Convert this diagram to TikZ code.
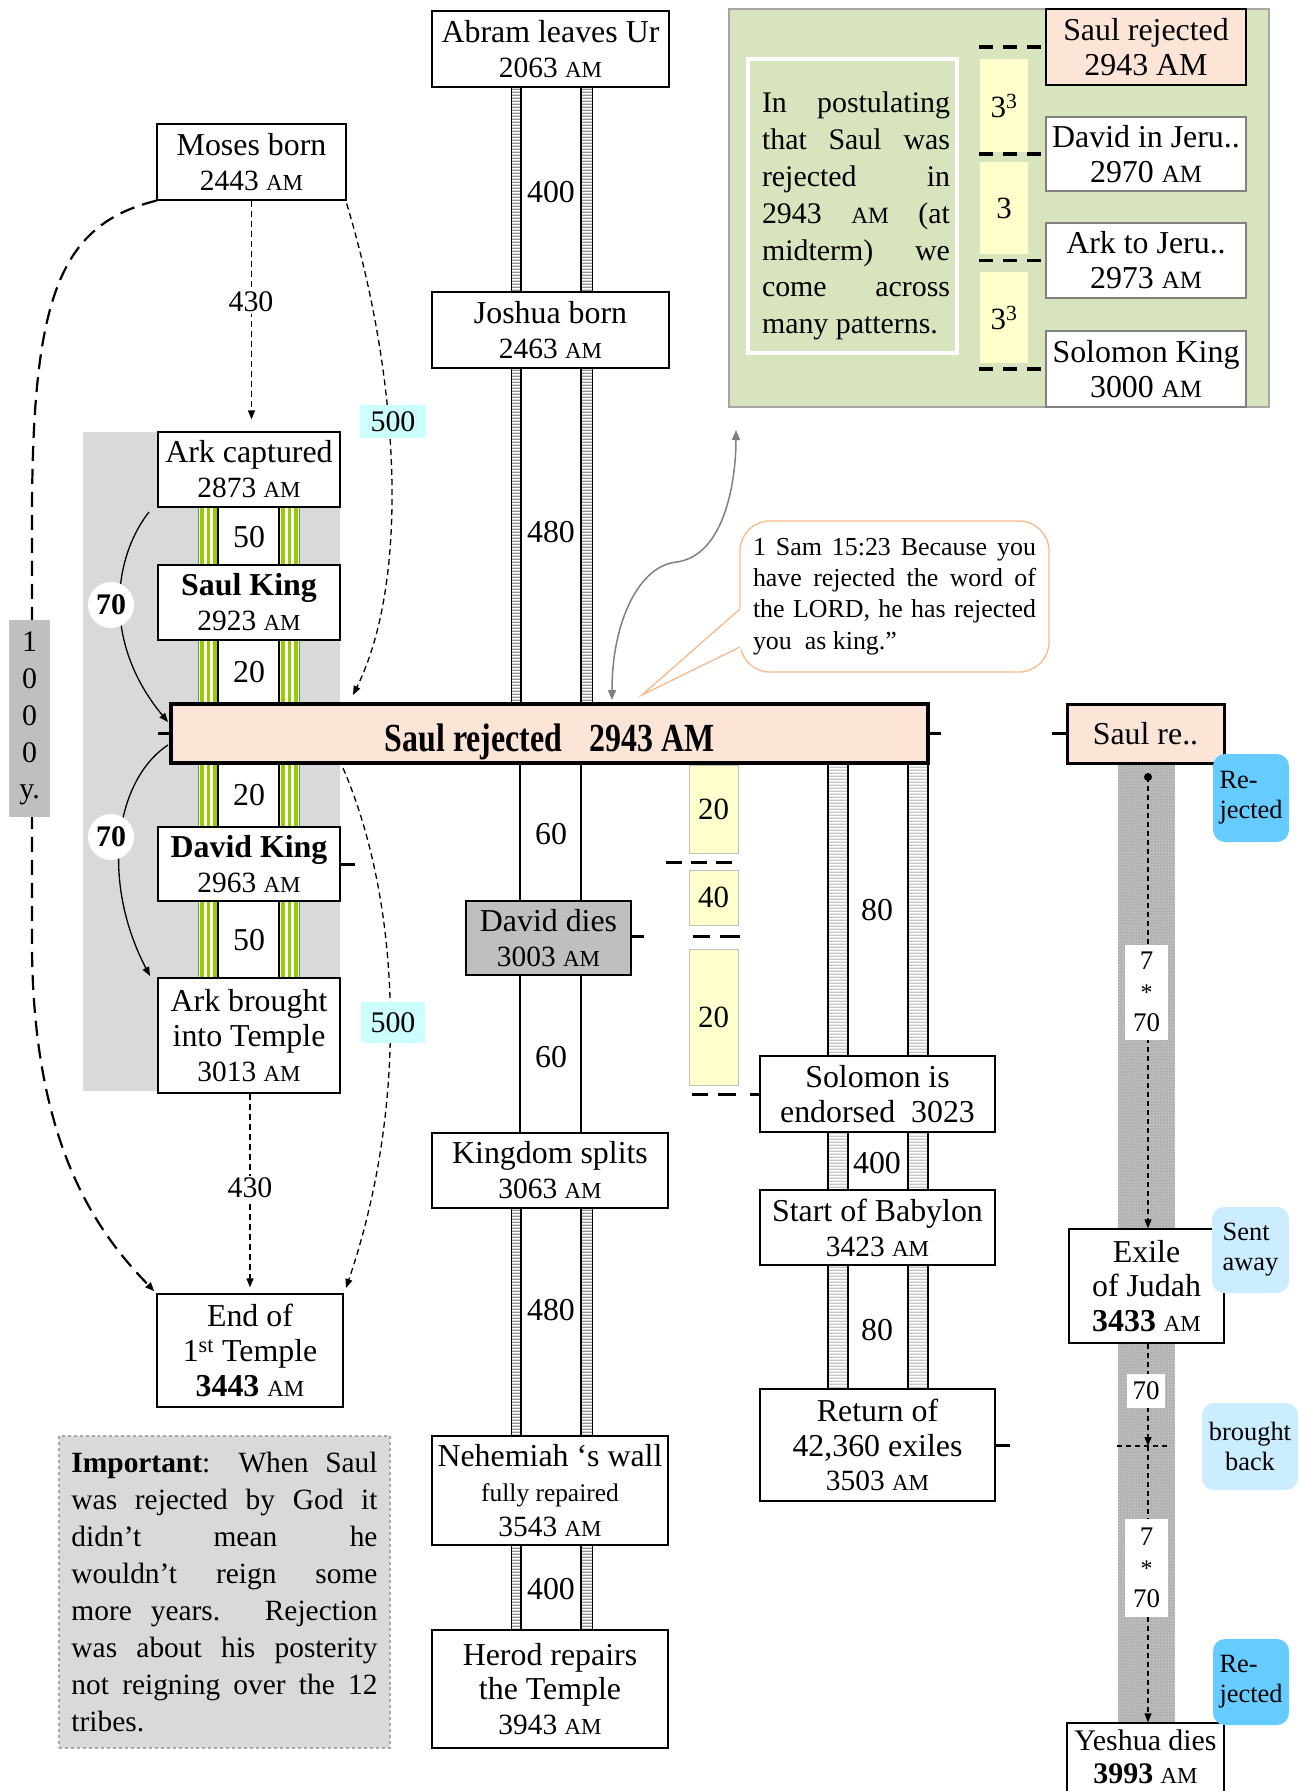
\documentclass[tikz,border=0pt]{standalone}
\usepackage{fontspec}
\setmainfont{Liberation Serif}
\usepackage{graphicx}
\usetikzlibrary{arrows.meta,patterns,patterns.meta}

\definecolor{peach}{HTML}{FCE4D6}
\definecolor{ylw}{HTML}{FFFFCC}
\definecolor{grn}{HTML}{D7E4BD}
\definecolor{cyanl}{HTML}{CCFFFF}
\definecolor{blu}{HTML}{66CCFF}
\definecolor{bluel}{HTML}{CCECFF}
\definecolor{lgray}{HTML}{D9D9D9}
\definecolor{mgray}{HTML}{BFBFBF}
\definecolor{ygreen}{HTML}{99CC00}
\definecolor{dgreen}{HTML}{4F9A6A}
\definecolor{orng}{HTML}{F9B98A}
\definecolor{arrgray}{HTML}{7F7F7F}

\newcommand\tl{\fontsize{32}{35}\selectfont}
\newcommand\dl{\fontsize{29.5}{33}\selectfont}
\newcommand\am{\scalebox{0.78}{AM}}
\newcommand\jl[1]{\makebox[\linewidth][s]{#1}}
\newcommand\smast{{\fontsize{24}{31}\selectfont *}}

\tikzdeclarepattern{name=hstripes, type=uncolored,
  bottom left={(0pt,0pt)}, top right={(2pt,3pt)}, tile size={(2pt,3pt)},
  code={\pgfpathrectangle{\pgfpointorigin}{\pgfpoint{2pt}{1.5pt}}\pgfusepath{fill}}}

\pgfdeclarelayer{back}\pgfdeclarelayer{mid}\pgfsetlayers{back,mid,main}

\tikzset{
 sz/.style 2 args={minimum width=#1bp, minimum height=#2bp},
 box/.style={draw=black, line width=1.3bp, fill=white, inner sep=0pt, align=center, font=\tl},
 ybox/.style={draw=mgray, line width=1bp, fill=ylw, inner sep=0pt, font=\fontsize{31}{34}\selectfont},
 bbox/.style={rounded corners=12bp, inner sep=0pt, font=\fontsize{26.5}{30}\selectfont},
 num/.style={inner sep=1bp, font=\fontsize{32}{34}\selectfont},
 tip/.style={-{Triangle[length=9bp,width=7bp]}},
 dshort/.style={line width=1.3bp, dash pattern=on 6bp off 4bp},
 dlong/.style={line width=2.2bp, dash pattern=on 15bp off 8bp},
 pdash/.style={line width=3.5bp, dash pattern=on 14bp off 10bp},
 rdash/.style={line width=1.4bp, dash pattern=on 5bp off 4bp},
 tick/.style={line width=3.5bp},
}

\newcommand\midlad[2]{%
  \path[preaction={fill=white}, pattern=hstripes, pattern color=gray!85] (511,#1) rectangle (521,#2) (581,#1) rectangle (592,#2);
  \draw[line width=1bp] (511,#1) rectangle (521,#2) (581,#1) rectangle (592,#2);
  \draw[line width=1.3bp, fill=white] (521,#1) rectangle (581,#2);}
\newcommand\rlad[2]{%
  \path[preaction={fill=white}, pattern=hstripes, pattern color=gray!45] (828,#1) rectangle (848,#2) (908,#1) rectangle (928,#2);
  \draw[line width=1.3bp] (828,#1) rectangle (848,#2) (908,#1) rectangle (928,#2);
  \draw[line width=1.3bp, fill=white] (848,#1) rectangle (908,#2);}
\newcommand\glad[2]{%
  \foreach \xx in {198,279}{%
    \fill[white] (\xx,#1) rectangle (\xx+20,#2);
    \fill[ygreen] (\xx+2,#1) rectangle (\xx+5.5,#2);
    \fill[ygreen] (\xx+8.5,#1) rectangle (\xx+12,#2);
    \fill[ygreen] (\xx+15,#1) rectangle (\xx+18.5,#2);
    \draw[dgreen, line width=0.8bp] (\xx,#1) rectangle (\xx+20,#2);}
  \draw[line width=1.3bp, fill=white] (218,#1) rectangle (279,#2);}

\begin{document}
\begin{tikzpicture}[x=1bp,y=-1bp]
\useasboundingbox (0,0) rectangle (1300,1791);

% ---------- backgrounds ----------
\begin{pgfonlayer}{back}
\fill[lgray] (83,432) rectangle (340,1091);
\end{pgfonlayer}

\node[draw=gray!70, line width=1.3bp, fill=grn, sz={540}{398}, inner sep=0] (panel) at (999,208) {};
\node[draw=white, line width=4bp, fill=grn, sz={209}{294}, inner sep=0] (ptext) at (852.5,206) {};
\node[inner sep=0] (ptxt) at (856,216)
 {\begin{minipage}{188bp}\fontsize{30}{37}\selectfont
 \jl{In postulating}\\\jl{that Saul was}\\\jl{rejected in}\\\jl{2943 \am{} (at}\\\jl{midterm) we}\\\jl{come across}\\many patterns.\end{minipage}};

\node[draw=gray!70, dashed, line width=1.3bp, fill=lgray, sz={331}{312}, inner sep=0] (imp) at (224.5,1592)
 {\begin{minipage}{306bp}\fontsize{29.5}{37}\selectfont
 \jl{\textbf{Important}: When Saul}\\\jl{was rejected by God it}\\\jl{didn’t mean he}\\\jl{wouldn’t reign some}\\\jl{more years. Rejection}\\\jl{was about his posterity}\\\jl{not reigning over the 12}\\tribes.\end{minipage}};

% ---------- boxes: left ----------
\node[box, sz={189}{76}] (moses) at (251.5,162) {Moses born\\{\dl 2443 \am}};
\node[box, sz={182}{75}] (arkc) at (249,469.5) {Ark captured\\{\dl 2873 \am}};
\node[box, sz={182}{75}] (saulk) at (249,602.5) {\textbf{Saul King}\\{\dl 2923 \am}};
\node[box, sz={182}{74}] (davidk) at (249,864) {\textbf{David King}\\{\dl 2963 \am}};
\node[box, sz={182}{115}] (arkb) at (249,1035.5) {Ark brought\\into Temple\\{\dl 3013 \am}};
\node[box, sz={186}{113}] (endt) at (250,1350.5) {End of\\1\textsuperscript{st} Temple\\\textbf{3443} {\dl\am}};

% ---------- boxes: middle ----------
\node[box, sz={237}{76}] (abram) at (550.5,49) {Abram leaves Ur\\{\dl 2063 \am}};
\node[box, sz={237}{76}] (joshua) at (550.5,330) {Joshua born\\{\dl 2463 \am}};
\node[box, fill=mgray, sz={165}{74}] (ddies) at (548.5,938) {David dies\\{\dl 3003 \am}};
\node[box, sz={236}{75}] (kingdom) at (550,1170.5) {Kingdom splits\\{\dl 3063 \am}};
\node[box, sz={236}{109}] (nehem) at (550,1490.5) {Nehemiah ‘s wall\\{\fontsize{25.5}{30}\selectfont fully repaired}\\{\dl 3543 \am}};
\node[box, sz={236}{118}] (herod) at (550,1689) {Herod repairs\\the Temple\\{\dl 3943 \am}};

% ---------- boxes: right ----------
\node[box, sz={235}{76}] (solom) at (877.5,1094) {Solomon is\\endorsed\ \ 3023};
\node[box, sz={235}{75}] (babyl) at (877.5,1227.5) {Start of Babylon\\{\dl 3423 \am}};
\node[box, sz={235}{112}] (ret) at (877.5,1445) {Return of\\42,360 exiles\\{\dl 3503 \am}};

% ---------- boxes: far right ----------
\node[box, fill=peach, line width=3bp, sz={157}{59}] (saulre) at (1145.5,733.5) {Saul re..};
\node[box, sz={155}{114}] (exile) at (1146.5,1286) {Exile\\of Judah\\\textbf{3433} {\dl\am}};
\node[box, sz={157}{77}] (yeshua) at (1145.5,1761.5) {};
\node[inner sep=0, align=center, font=\fontsize{30}{35}\selectfont] (yeshtxt) at (1145.5,1757) {Yeshua dies\\[-2bp]\textbf{3993} {\dl\am}};

% ---------- green panel boxes ----------
\node[box, fill=peach, sz={200}{76}] (srej) at (1146,47) {Saul rejected\\2943 AM};
\node[box, draw=gray, sz={200}{74}] (djeru) at (1146,154) {David in Jeru..\\2970 \am};
\node[box, draw=gray, sz={200}{75}] (ajeru) at (1146,260.5) {Ark to Jeru..\\2973 \am};
\node[box, draw=gray, sz={200}{76}] (solk) at (1146,369) {Solomon King\\3000 \am};
\node[ybox, draw=none, sz={48}{93}] (p1) at (1004,105.5) {3\textsuperscript{3}};
\node[ybox, draw=none, sz={48}{92}] (p2) at (1004,208) {3};
\node[ybox, draw=none, sz={48}{91}] (p3) at (1004,317.5) {3\textsuperscript{3}};
\foreach \n in {srej,djeru,ajeru,solk} \draw[pdash] ([xshift=-66bp]\n.west) -- (\n.west);

% ---------- yellow column ----------
\node[ybox, sz={49}{88}] (y20a) at (713.5,809) {20};
\node[ybox, sz={49}{55}] (y40) at (713.5,897.5) {40};
\node[ybox, sz={49}{136}] (y20b) at (713.5,1017) {20};
\coordinate (yd1) at (666,862);
\draw[line width=3bp, dash pattern=on 16bp off 9bp] (yd1) -- ++(73,0);
\draw[line width=3bp, dash pattern=on 12bp off 49bp on 17bp off 10bp on 20bp off 100bp] ([yshift=2bp]ddies.east) -- ++(108,0);
\coordinate (yd3) at (692,1094);
\draw[line width=3bp, dash pattern=on 16bp off 10bp on 18bp off 14bp on 10bp off 100bp] (yd3) -- (solom.west);

% ---------- main bar ----------
\node[draw, line width=3.5bp, fill=peach, sz={757}{59}, inner sep=0] (bar) at (549.5,733.5) {};
\node[inner sep=0] (bartxt) at (549.5,742)
 {\scalebox{0.8}[1]{\fontsize{40}{40}\selectfont\bfseries Saul rejected\hspace{34bp}2943 AM}};
\draw[tick] (bar.west) -- ++(-11,0);
\draw[tick] (bar.east) -- ++(11,0);
\draw[tick] (saulre.west) -- ++(-14,0);
\draw[line width=3bp] (davidk.east) -- ++(14,0);
\draw[line width=3bp] (ret.east) -- ++(14,0);

% ---------- ladders, curves ----------
\begin{pgfonlayer}{mid}
\midlad{87}{292}\midlad{368}{704}\midlad{1208}{1436}\midlad{1545}{1630}
\draw[line width=1.3bp, fill=white] (520,763) rectangle (581,901);
\draw[line width=1.3bp, fill=white] (520,975) rectangle (581,1133);
\rlad{763}{1056}\rlad{1132}{1190}\rlad{1265}{1389}
\glad{507}{565}\glad{640}{704}\glad{763}{827}\glad{901}{978}
\fill[gray!62] (1118,763) rectangle (1175,1723);
\fill[pattern=crosshatch dots, pattern color=gray!25] (1118,763) rectangle (1175,1723);

\draw[dshort, tip, shorten >=12bp] (moses.south) -- (moses.south |- arkc.north);
\draw[dshort, tip, shorten >=6bp] ([xshift=1bp]arkb.south) -- ([xshift=1bp]arkb.south |- endt.north);
\draw[dshort, tip] ([yshift=-3bp]moses.south east) .. controls (400,380) and (410,580) .. (353,695);
\draw[dshort, tip] (343,768) .. controls (400,900) and (410,1100) .. (346,1288);
\draw[dlong, tip, shorten >=3bp] (moses.south west) .. controls (58,225) and (32,300) .. (32,520) -- (32,950) .. controls (34,1150) and (100,1235) .. (endt.north west);
\draw[line width=1.3bp, tip] (149,512) .. controls (115,555) and (100,640) .. (168,722);
\draw[line width=1.3bp, tip] (168,745) .. controls (115,780) and (100,880) .. (150,976);

\draw[arrgray, line width=1.5bp, {Triangle[length=10bp,width=8bp]}-{Triangle[length=10bp,width=8bp]}]
  (612,700) .. controls (612,620) and (640,565) .. (677,562) .. controls (725,555) and (736,480) .. (736,430);

\fill (1148,777) circle (4bp);
\draw[rdash, tip] (1148,777) -- (exile.north -| 1148,0);
\draw[rdash, tip] (exile.south -| 1148,0) -- (1148,1446);
\draw[rdash] (1117,1446) -- (1168,1446);
\draw[rdash, tip] (1148,1446) -- (yeshua.north -| 1148,0);
\end{pgfonlayer}

% ---------- ladder labels ----------
\node[num] (m400a) at (551,192) {400};
\node[num] (m480a) at (551,532) {480};
\node[num] (m60a) at (551,834) {60};
\node[num] (m60b) at (551,1057) {60};
\node[num] (m480b) at (551,1310) {480};
\node[num] (m400b) at (551,1589) {400};
\node[num] (r80a) at (877,910) {80};
\node[num] (r400) at (877,1163) {400};
\node[num] (r80b) at (877,1330) {80};
\node[num] (g50a) at (249,537) {50};
\node[num] (g20a) at (249,672) {20};
\node[num] (g20b) at (249,795) {20};
\node[num] (g50b) at (249,940) {50};

% ---------- labels on connectors ----------
\node[fill=white, inner sep=2bp, font=\fontsize{30}{30}\selectfont] (l430a) at (251,302) {430};
\node[fill=white, inner sep=2bp, font=\fontsize{30}{30}\selectfont] (l430b) at (250,1188) {430};
\node[fill=cyanl, inner sep=0, sz={66}{33}, font=\fontsize{30}{30}\selectfont] (c500a) at (393,421.5) {500};
\node[fill=cyanl, inner sep=0, sz={64}{41}, font=\fontsize{30}{30}\selectfont] (c500b) at (393,1022.5) {500};
\node[circle, fill=white, minimum size=46bp, inner sep=0, font=\fontsize{30}{30}\selectfont\bfseries] (c70a) at (111,605) {70};
\node[circle, fill=white, minimum size=46bp, inner sep=0, font=\fontsize{30}{30}\selectfont\bfseries] (c70b) at (111,837) {70};
\node[fill=mgray, inner sep=0, sz={41}{197}, align=center, font=\fontsize{30}{37}\selectfont] (thou) at (29.5,718.5) {1\\0\\0\\0\\y.};

\node[fill=white, inner sep=0, sz={43}{95}, align=center, font=\fontsize{27}{31}\selectfont] (m1) at (1146.5,992) {7\\\smast\\70};
\node[fill=white, inner sep=0, sz={38}{34}, font=\fontsize{27}{31}\selectfont] (m2) at (1146,1391) {70};
\node[fill=white, inner sep=0, sz={43}{98}, align=center, font=\fontsize{27}{31}\selectfont] (m3) at (1146.5,1568) {7\\\smast\\70};

\node[bbox, fill=blu, sz={76}{88}, align=left] (rej1) at (1251,798) {Re-\\jected};
\node[bbox, fill=bluel, sz={77}{86}, align=left] (sent) at (1250.5,1250) {Sent\\away};
\node[bbox, fill=bluel, sz={96}{87}, align=center] (back) at (1250,1446.5) {brought\\back};
\node[bbox, fill=blu, sz={76}{86}, align=left] (rej2) at (1251,1682) {Re-\\jected};

% ---------- callout ----------
\node[draw=orng, line width=1.3bp, fill=white, rounded corners=30bp, sz={309}{151}, inner sep=0] (callout) at (894.5,596.5)
 {\begin{minipage}{283bp}\fontsize{26}{31.5}\selectfont
 \jl{1 Sam 15:23 Because you}\\\jl{have rejected the word of}\\\jl{the LORD, he has rejected}\\you\ \ as king.\char"22\end{minipage}};
\coordinate (ctip) at (642,695);
\fill[white] (742,607) -- (742,649) -- (ctip) -- cycle;
\draw[orng, line width=1.3bp] (740,609) -- (ctip) -- (740,647);

\end{tikzpicture}
\end{document}
